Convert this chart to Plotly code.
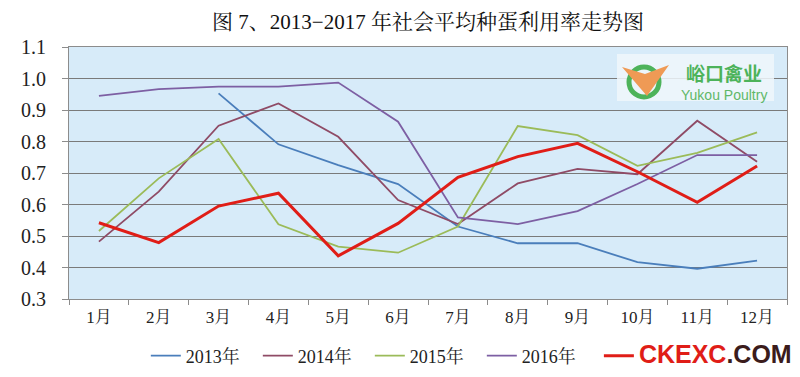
import plotly.graph_objects as go

months = ["1月", "2月", "3月", "4月", "5月", "6月", "7月", "8月", "9月", "10月", "11月", "12月"]
y2013 = [None, None, 0.953, 0.791, 0.725, 0.665, 0.530, 0.477, 0.477, 0.417, 0.396, 0.422]
y2014 = [0.482, 0.641, 0.850, 0.921, 0.815, 0.614, 0.538, 0.667, 0.713, 0.696, 0.866, 0.736]
y2015 = [0.516, 0.683, 0.808, 0.537, 0.466, 0.447, 0.530, 0.849, 0.820, 0.723, 0.764, 0.829]
y2016 = [0.945, 0.966, 0.974, 0.974, 0.987, 0.863, 0.559, 0.538, 0.579, 0.665, 0.757, 0.757]
y2017 = [0.542, 0.479, 0.595, 0.636, 0.437, 0.540, 0.686, 0.752, 0.794, 0.704, 0.607, 0.722]
y_ticks = [0.3, 0.4, 0.5, 0.6, 0.7, 0.8, 0.9, 1.0, 1.1]

SERIF = "Liberation Serif, Times New Roman, Noto Serif CJK SC, Noto Sans CJK SC, serif"

series = [
    ("2013年", y2013, "#4a7ebb", 1.8, "legend"),
    ("2014年", y2014, "#8f4b66", 1.8, "legend"),
    ("2015年", y2015, "#9bbb59", 1.8, "legend"),
    ("2016年", y2016, "#7d5fa3", 1.8, "legend"),
    ("<b><span style='font-family:Arial, Liberation Sans;font-size:25px;color:#e01d17'>CKEXC</span>"
     "<span style='font-family:Arial, Liberation Sans;font-size:25px;color:#3b1c1c'>.COM</span></b>",
     y2017, "#e01d17", 3, "legend2"),
]

fig = go.Figure()
for name, ys, color, w, lg in series:
    fig.add_trace(go.Scatter(x=months, y=ys, name=name, mode="lines", legend=lg,
                             line=dict(color=color, width=w), connectgaps=False))

# page body has an 8px margin: figure is drawn at (8, 8) in the window
fig.update_layout(
    width=792, height=369,
    margin=dict(l=61, r=13, t=39, b=78, autoexpand=False),
    paper_bgcolor="white",
    plot_bgcolor="#d7ebf9",
    font=dict(family=SERIF, size=16, color="#222"),
    showlegend=True,
    legend=dict(orientation="h", x=0.107, xanchor="left", y=-0.226, yanchor="middle",
                itemwidth=30, entrywidth=67, entrywidthmode="pixels",
                font=dict(size=18, family=SERIF), bgcolor="rgba(0,0,0,0)",
                traceorder="normal"),
    legend2=dict(orientation="h", x=0.738, xanchor="left", y=-0.226, yanchor="middle",
                 itemwidth=30, font=dict(size=18, family=SERIF), bgcolor="rgba(0,0,0,0)"),
    title=dict(text="图 7、2013−2017 年社会平均种蛋利用率走势图", x=0.5, xref="paper",
               xanchor="center", y=1 - 14 / 369, yref="container", yanchor="middle",
               font=dict(size=21, family=SERIF, color="#111")),
)

fig.update_xaxes(type="category", showgrid=False, showline=True, linecolor="#8c8c8c",
                 linewidth=1, mirror=True, ticks="outside", tickson="boundaries",
                 ticklen=5, tickcolor="#8c8c8c", tickfont=dict(size=17, family=SERIF),
                 ticklabelstandoff=3, range=[-0.5, 11.5])
fig.update_yaxes(range=[0.3, 1.1], tickvals=y_ticks, tickformat=".1f", showgrid=True,
                 gridcolor="#7a7a7a", gridwidth=1, showline=True, linecolor="#8c8c8c",
                 mirror=True, ticks="outside", ticklen=6, tickcolor="#8c8c8c",
                 tickfont=dict(size=20, family=SERIF), ticklabelstandoff=12, zeroline=False)


def px(x):
    return (x - 69) / 718


def py(y):
    return (299 - y) / 252


# logo (watermark)
fig.add_shape(type="rect", xref="paper", yref="paper",
              x0=px(617), x1=px(774), y0=py(101), y1=py(54),
              fillcolor="rgba(240,247,252,0.85)", line=dict(width=0), layer="above")
cx, cy, r = 644, 82, 15
fig.add_shape(type="circle", xref="paper", yref="paper",
              x0=px(cx - r), x1=px(cx + r), y0=py(cy + r), y1=py(cy - r),
              line=dict(color="#4db35a", width=5), fillcolor="rgba(0,0,0,0)", layer="above")
fig.add_shape(type="path", xref="paper", yref="paper", layer="above",
              path=f"M {px(622)},{py(67)} L {px(645)},{py(74)} L {px(669)},{py(65)} L {px(647)},{py(96)} Z",
              fillcolor="#ef9a55", line=dict(width=0))
fig.add_annotation(text="<b>峪口禽业</b>", xref="paper", yref="paper", x=px(724), y=py(72),
                   xanchor="center", yanchor="middle", showarrow=False,
                   font=dict(size=19, color="#4db35a", family="Noto Sans CJK SC, sans-serif"))
fig.add_annotation(text="Yukou Poultry", xref="paper", yref="paper", x=px(724), y=py(95),
                   xanchor="center", yanchor="middle", showarrow=False,
                   font=dict(size=14, color="#5fb868", family="Liberation Sans, Arial, sans-serif"))

fig.write_html("out.html")
